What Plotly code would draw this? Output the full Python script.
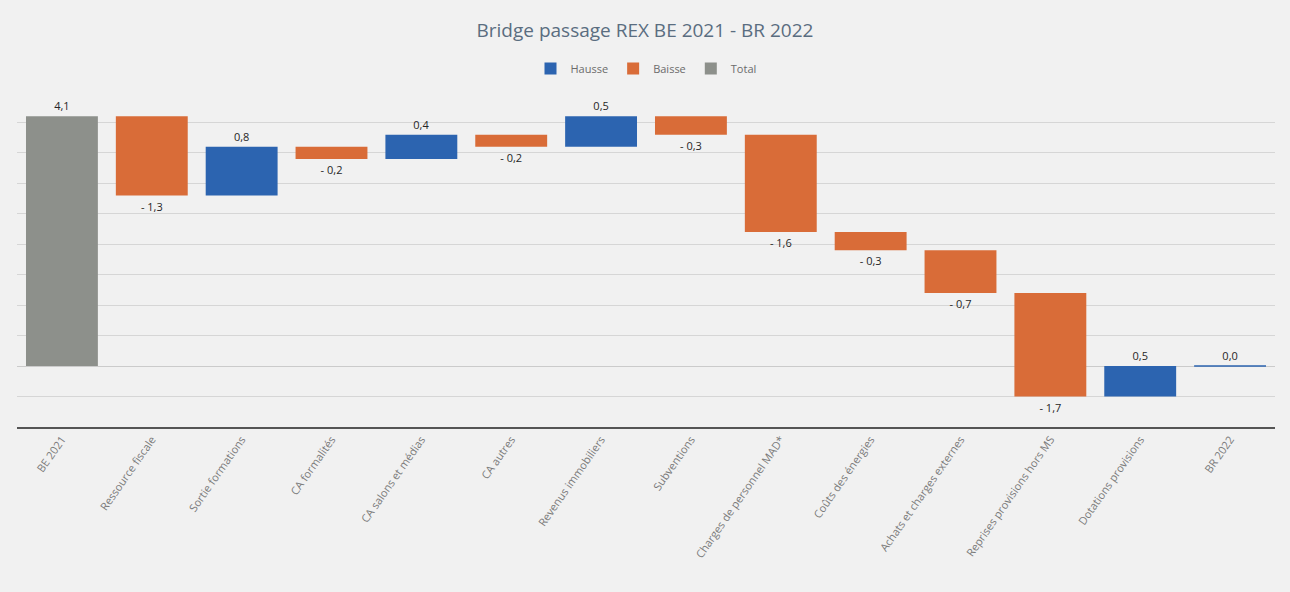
import plotly.graph_objects as go

categories = ["BE 2021", "Ressource fiscale", "Sortie formations", "CA formalités",
              "CA salons et médias", "CA autres", "Revenus immobiliers", "Subventions",
              "Charges de personnel MAD*", "Coûts des énergies", "Achats et charges externes",
              "Reprises provisions hors MS", "Dotations provisions", "BR 2022"]
values = [4.1, -1.3, 0.8, -0.2, 0.4, -0.2, 0.5, -0.3, -1.6, -0.3, -0.7, -1.7, 0.5, 0.0]
kinds = ["total", "delta", "delta", "delta", "delta", "delta", "delta", "delta",
         "delta", "delta", "delta", "delta", "delta", "total"]

BLUE = "#2c64b0"
ORANGE = "#d96c38"
GRAY = "#8d908b"


def fmt(v):
    s = f"{abs(v):.1f}".replace(".", ",")
    return ("- " + s) if v < 0 else s


# compute bases from running total
bases = []
running = 0.0
for v, k in zip(values, kinds):
    if k == "total":
        bases.append(0.0)
        running = v
    else:
        bases.append(running)
        running = round(running + v, 6)

hx, hy, hb, ht = [], [], [], []
bx, by, bb, bt = [], [], [], []
tx, ty, tb, tt, tlc, tlw = [], [], [], [], [], []
for c, v, k, b in zip(categories, values, kinds, bases):
    if k == "total":
        tx.append(c); ty.append(v); tb.append(b); tt.append(fmt(v))
        tlc.append(BLUE if v == 0 else GRAY)
        tlw.append(1.5 if v == 0 else 0)
    elif v >= 0:
        hx.append(c); hy.append(v); hb.append(b); ht.append(fmt(v))
    else:
        bx.append(c); by.append(v); bb.append(b); bt.append(fmt(v))

textfont = dict(family="Open Sans, Liberation Sans, sans-serif", size=11, color="#262626")

fig = go.Figure()
fig.add_trace(go.Bar(name="Hausse", x=hx, y=hy, base=hb, text=ht,
                     marker=dict(color=BLUE, line=dict(width=0)),
                     textposition="outside", textfont=textfont, cliponaxis=False))
fig.add_trace(go.Bar(name="Baisse", x=bx, y=by, base=bb, text=bt,
                     marker=dict(color=ORANGE, line=dict(width=0)),
                     textposition="outside", textfont=textfont, cliponaxis=False))
fig.add_trace(go.Bar(name="Total", x=tx, y=ty, base=tb, text=tt,
                     marker=dict(color=GRAY, line=dict(color=tlc, width=tlw)),
                     textposition="outside", textfont=textfont, cliponaxis=False))

fig.update_layout(
    width=1290, height=592,
    barmode="overlay",
    bargap=0.2,
    paper_bgcolor="#f1f1f1",
    plot_bgcolor="rgba(0,0,0,0)",
    margin=dict(l=17, r=15, t=92, b=165),
    title=dict(text="Bridge passage REX BE 2021 - BR 2022", x=0.5, xanchor="center",
               y=0.949, yanchor="middle",
               font=dict(family="Open Sans, sans-serif", size=19,
                         color="#5a6d80")),
    legend=dict(orientation="h", x=0.5, xanchor="center", y=1.07, yanchor="middle",
                font=dict(family="Open Sans, sans-serif", size=11, color="#6b6b6b"),
                bgcolor="rgba(0,0,0,0)", itemwidth=30),
    font=dict(family="Open Sans, sans-serif"),
)
fig.update_xaxes(categoryorder="array", categoryarray=categories,
                 tickangle=-55, tickfont=dict(size=11, color="#7a7a7a"),
                 showline=True, linecolor="#555555", linewidth=1.5,
                 showgrid=False, ticks="")
fig.update_yaxes(range=[-1, 4.5], dtick=0.5, showticklabels=False,
                 showgrid=True, gridcolor="#d6d6d6", gridwidth=1,
                 zeroline=True, zerolinecolor="#cbcbcb", zerolinewidth=1)

fig.write_html("out.html", config={"displayModeBar": False},
               post_script="document.body.style.margin='0';"
                           "document.body.style.background='#f1f1f1';")
